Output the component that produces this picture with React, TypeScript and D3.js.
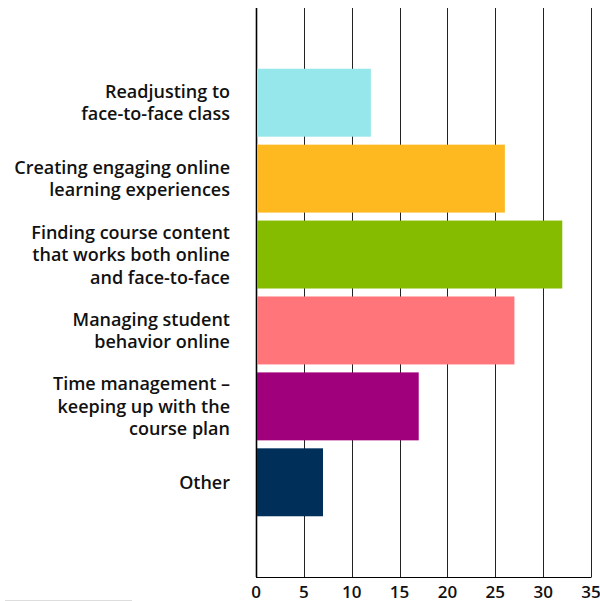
import React from "react";
import * as d3 from "d3";

const categories: string[][] = [
  ["Readjusting to", "face-to-face class"],
  ["Creating engaging online", "learning experiences"],
  ["Finding course content", "that works both online", "and face-to-face"],
  ["Managing student", "behavior online"],
  ["Time management –", "keeping up with the", "course plan"],
  ["Other"],
];
const values: number[] = [12, 26, 32, 27, 17, 7];
const colors: string[] = ["#96E7EB", "#FDB91F", "#86BC00", "#FF757A", "#A0007B", "#002F5A"];
const ticks: number[] = [0, 5, 10, 15, 20, 25, 30, 35];

const W = 600;
const H = 601;
const left = 256;
const right = 591;
const top = 8;
const bottom = 577;
const FONT = "'Open Sans', 'Noto Sans', sans-serif";

export default function App() {
  const x = d3.scaleLinear().domain([0, 35]).range([left, right]);
  const y = d3
    .scaleBand<number>()
    .domain(d3.range(categories.length))
    .range([top, bottom])
    .paddingInner(0.105)
    .paddingOuter(0.8);
  const fs = 18;
  const lh = 22.5;
  return (
    <svg
      width={W}
      height={H}
      style={{ position: "absolute", left: 0, top: 0, background: "#fff" }}
    >
      {ticks.map((t) => (
        <line
          key={"g" + t}
          x1={Math.round(x(t)) + 0.5}
          x2={Math.round(x(t)) + 0.5}
          y1={top}
          y2={bottom}
          stroke={t === 0 ? "#000" : "#222"}
          strokeWidth={t === 0 ? 1.6 : 1}
        />
      ))}
      {values.map((v, i) => (
        <rect
          key={"b" + i}
          x={x(0) + 1}
          y={y(i)}
          width={x(v) - x(0) - 1}
          height={y.bandwidth()}
          fill={colors[i]}
        />
      ))}
      <line x1={left} x2={right + 0.5} y1={bottom + 0.5} y2={bottom + 0.5} stroke="#000" strokeWidth={1.2} />
      {categories.map((lines, i) => {
        const c = (y(i) as number) + y.bandwidth() / 2;
        return (
          <text
            key={"l" + i}
            textAnchor="end"
            fontFamily={FONT}
            fontWeight={600}
            fontSize={fs}
            fill="#111"
          >
            {lines.map((ln, j) => (
              <tspan key={j} x={230} y={c + (j - (lines.length - 1) / 2) * lh + 6.5}>
                {ln}
              </tspan>
            ))}
          </text>
        );
      })}
      {ticks.map((t) => (
        <text
          key={"t" + t}
          x={x(t)}
          y={598}
          textAnchor="middle"
          fontFamily={FONT}
          fontWeight={600}
          fontSize={17}
          fill="#111"
        >
          {t}
        </text>
      ))}
      <line x1={5} x2={132} y1={600.5} y2={600.5} stroke="#ddd" strokeWidth={1} />
    </svg>
  );
}
